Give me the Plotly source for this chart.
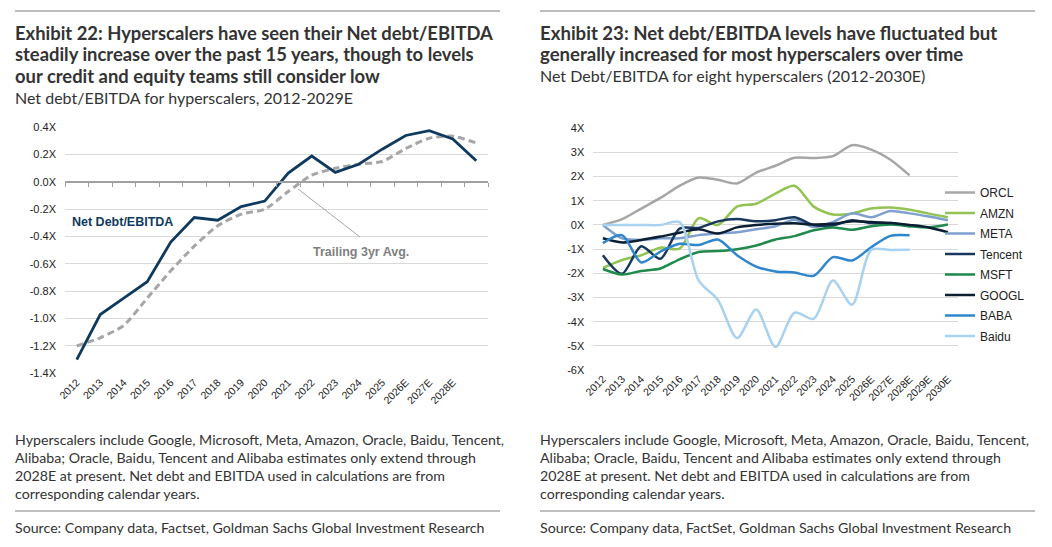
import plotly.graph_objects as go

W, H = 1052, 547

# ---------------- data: Exhibit 22 ----------------
left_categories = ["2012", "2013", "2014", "2015", "2016", "2017", "2018", "2019", "2020",
                   "2021", "2022", "2023", "2024", "2025", "2026E", "2027E", "2028E", "2029E"]
left_tick_labels = left_categories[:-1]          # last category carries no label
net_debt_ebitda = [-1.30, -0.97, -0.85, -0.73, -0.44, -0.26, -0.28, -0.18, -0.14,
                   0.065, 0.19, 0.07, 0.13, 0.24, 0.34, 0.375, 0.315, 0.155]
trailing_3yr_avg = [-1.20, -1.14, -1.05, -0.85, -0.65, -0.47, -0.32, -0.235, -0.20,
                    -0.07, 0.05, 0.10, 0.13, 0.15, 0.245, 0.32, 0.335, 0.285]
left_y_ticks = [0.4, 0.2, 0.0, -0.2, -0.4, -0.6, -0.8, -1.0, -1.2, -1.4]

# ---------------- data: Exhibit 23 ----------------
right_categories = ["2012", "2013", "2014", "2015", "2016", "2017", "2018", "2019", "2020",
                    "2021", "2022", "2023", "2024", "2025", "2026E", "2027E", "2028E",
                    "2029E", "2030E"]
orcl = [0.0, 0.24, 0.68, 1.12, 1.62, 1.96, 1.87, 1.72, 2.17, 2.45, 2.78, 2.77, 2.85, 3.30,
        3.12, 2.70, 2.05, None, None]
amzn = [-1.78, -1.45, -1.25, -0.94, -0.98, 0.28, 0.0, 0.76, 0.88, 1.30, 1.62, 0.76, 0.43,
        0.48, 0.68, 0.72, 0.63, 0.47, 0.32]
meta = [0.0, -0.55, -0.62, -0.55, -0.55, -0.42, -0.35, -0.30, -0.18, -0.05, 0.22, -0.08,
        0.12, 0.48, 0.32, 0.58, 0.48, 0.35, 0.20]
tencent = [-1.25, -2.02, -0.88, -1.40, -0.15, -0.12, 0.15, 0.25, 0.15, 0.20, 0.32, 0.0,
           -0.02, 0.20, 0.08, 0.08, -0.05, None, None]
msft = [-1.82, -2.05, -1.90, -1.80, -1.42, -1.12, -1.08, -1.00, -0.85, -0.60, -0.46, -0.22,
        -0.10, -0.20, -0.05, 0.02, -0.05, -0.10, 0.02]
googl = [-0.55, -0.72, -0.62, -0.48, -0.32, -0.18, -0.35, -0.10, 0.0, 0.05, 0.07, 0.02,
         0.05, 0.15, 0.12, 0.08, 0.0, -0.10, -0.30]
baba = [-0.75, -0.42, -1.55, -1.10, -0.78, -0.83, -0.60, -1.25, -1.72, -1.92, -1.97, -2.10,
        -1.33, -1.47, -0.92, -0.45, -0.43, None, None]
baidu = [0.0, 0.0, 0.0, 0.0, 0.12, -2.30, -3.10, -4.68, -3.50, -5.05, -3.63, -3.88, -2.30,
         -3.30, -1.03, -1.03, -1.02, None, None]
right_series_names = ["ORCL", "AMZN", "META", "Tencent", "MSFT", "GOOGL", "BABA", "Baidu"]
right_series_values = [orcl, amzn, meta, tencent, msft, googl, baba, baidu]
right_y_ticks = [4, 3, 2, 1, 0, -1, -2, -3, -4, -5, -6]

# ---------------- text ----------------
left_title = ["Exhibit 22: Hyperscalers have seen their Net debt/EBITDA",
              "steadily increase over the past 15 years, though to levels",
              "our credit and equity teams still consider low"]
left_subtitle = "Net debt/EBITDA for hyperscalers, 2012-2029E"
right_title = ["Exhibit 23: Net debt/EBITDA levels have fluctuated but",
               "generally increased for most hyperscalers over time"]
right_subtitle = "Net Debt/EBITDA for eight hyperscalers (2012-2030E)"
footnote = ["Hyperscalers include Google, Microsoft, Meta, Amazon, Oracle, Baidu, Tencent,",
            "Alibaba; Oracle, Baidu, Tencent and Alibaba estimates only extend through",
            "2028E at present. Net debt and EBITDA used in calculations are from",
            "corresponding calendar years."]
left_source = "Source: Company data, Factset, Goldman Sachs Global Investment Research"
right_source = "Source: Company data, FactSet, Goldman Sachs Global Investment Research"

# ---------------- styles ----------------
NAVY = "#0f3a5f"
GREY_DASH = "#a6a6a6"
GRID = "#d9d9d9"
TEXT = "#333333"
TICK_FONT = "Liberation Sans, Arial, sans-serif"
HEAD_FONT = "Lato, Open Sans, sans-serif"
RULE = "#a8a8a8"
right_colors = {"ORCL": "#a6a6a6", "AMZN": "#92c353", "META": "#7f9fcf", "Tencent": "#17375e",
                "MSFT": "#1f8a4c", "GOOGL": "#0c1e33", "BABA": "#2f86cc", "Baidu": "#a9d1f0"}


def px(x):
    return x / W


def py(y):
    return 1 - y / H


# plot areas (paper fractions)
L_X = [px(65), px(488)]
L_Y = [py(373.3), py(127.3)]
R_X = [px(593.3), px(957.5)]
R_Y = [py(370), py(128.3)]
L_RANGE = [min(left_y_ticks), max(left_y_ticks)]
zero_pos = L_Y[0] + (0 - L_RANGE[0]) / (L_RANGE[1] - L_RANGE[0]) * (L_Y[1] - L_Y[0])

fig = go.Figure()

# ---- left chart ----
fig.add_trace(go.Scatter(x=left_categories, y=trailing_3yr_avg, mode="lines",
                         line=dict(color=GREY_DASH, width=3, dash="7px,4px", shape="spline",
                                   smoothing=0.6),
                         xaxis="x", yaxis="y", showlegend=False, hoverinfo="skip"))
fig.add_trace(go.Scatter(x=left_categories, y=net_debt_ebitda, mode="lines",
                         line=dict(color=NAVY, width=2.8),
                         xaxis="x", yaxis="y", showlegend=False, hoverinfo="skip"))
# helper (invisible) trace that carries the categories of the zero-line axis
fig.add_trace(go.Scatter(x=left_categories, y=net_debt_ebitda, mode="lines", opacity=0,
                         xaxis="x3", yaxis="y", showlegend=False, hoverinfo="skip"))

# ---- right chart ----
for name, vals in zip(right_series_names, right_series_values):
    fig.add_trace(go.Scatter(x=right_categories, y=vals, mode="lines", name=name,
                             line=dict(color=right_colors[name], width=2.5, shape="spline",
                                       smoothing=0.8),
                             xaxis="x2", yaxis="y2", legendgroup=name, hoverinfo="skip"))

tick_font = dict(family=TICK_FONT, size=11, color="#222222")
xtick_font = dict(family=TICK_FONT, size=10.5, color="#222222")

fig.update_layout(
    width=W, height=H, margin=dict(l=0, r=0, t=0, b=0, autoexpand=False), autosize=False,
    paper_bgcolor="white", plot_bgcolor="white",
    xaxis=dict(domain=L_X, anchor="y", type="category", categoryorder="array",
               categoryarray=left_categories, range=[-0.5, len(left_categories) - 0.5],
               tickmode="array", tickvals=left_tick_labels, ticktext=left_tick_labels,
               tickangle=-45, tickfont=xtick_font, showgrid=False, showline=False,
               ticks="", zeroline=False),
    xaxis3=dict(overlaying="x", anchor="free", position=zero_pos, type="category",
                categoryorder="array", categoryarray=left_categories,
                range=[-0.5, len(left_categories) - 0.5], showticklabels=False,
                showline=True, linecolor="#a0a0a0", linewidth=1.5, ticks="outside",
                tickson="boundaries", ticklen=4, tickcolor="#a0a0a0", tickwidth=1,
                showgrid=False, zeroline=False),
    yaxis=dict(domain=L_Y, anchor="x", range=L_RANGE, tickmode="array",
               tickvals=left_y_ticks, ticktext=[f"{v:.1f}X" for v in left_y_ticks],
               tickfont=tick_font, showgrid=True, gridcolor=GRID, gridwidth=1,
               zeroline=False, showline=False, ticks="", ticklabelstandoff=8),
    xaxis2=dict(domain=R_X, anchor="y2", type="category", categoryorder="array",
                categoryarray=right_categories, range=[-0.5, len(right_categories) - 0.5],
                tickangle=-45, tickfont=xtick_font, showgrid=False, showline=False,
                ticks="", zeroline=False),
    yaxis2=dict(domain=R_Y, anchor="x2", range=[min(right_y_ticks), max(right_y_ticks)],
                tickmode="array", tickvals=right_y_ticks,
                ticktext=[f"{v:d}X" for v in right_y_ticks], tickfont=tick_font,
                showgrid=True, gridcolor=GRID, gridwidth=1, zeroline=False,
                showline=False, ticks="", ticklabelstandoff=8),
    legend=dict(x=px(940), y=py(178), xanchor="left", yanchor="top",
                font=dict(family=TICK_FONT, size=12, color="#222222"),
                bgcolor="rgba(0,0,0,0)", tracegroupgap=1.5, itemwidth=30),
    showlegend=True,
)

annotations = []
shapes = []


def text_line(x, y, s, size, bold=False, color=TEXT, family=HEAD_FONT):
    annotations.append(dict(xref="paper", yref="paper", x=px(x), y=py(y), xanchor="left",
                            yanchor="middle", showarrow=False, borderpad=0,
                            text=f"<b>{s}</b>" if bold else s,
                            font=dict(family=family, size=size, color=color)))


for i, s in enumerate(left_title):
    text_line(14, 33 + i * 21.5, s, 18.4, bold=True)
text_line(14, 97, left_subtitle, 16)
for i, s in enumerate(right_title):
    text_line(539, 33 + i * 21.5, s, 18.6, bold=True)
text_line(539, 76, right_subtitle, 16)

for i, s in enumerate(footnote):
    text_line(14, 439 + i * 18.2, s, 14.2)
    text_line(539, 439 + i * 18.2, s, 14.2)
text_line(14, 527, left_source, 14.2)
text_line(539, 527, right_source, 14.2)

# series labels in the left chart
text_line(71, 222, "Net Debt/EBITDA", 12.5, bold=True, color=NAVY, family=TICK_FONT)
text_line(312, 252, "Trailing 3yr Avg.", 12.5, bold=True, color="#7f7f7f", family=TICK_FONT)

# connector for the trailing label
shapes.append(dict(type="line", xref="paper", yref="paper", x0=px(298), y0=py(189),
                   x1=px(360), y1=py(237), line=dict(color="#a6a6a6", width=1)))
# horizontal rules (top and above the source line)
for x0, x1 in [(15, 500), (540, 1035)]:
    shapes.append(dict(type="line", xref="paper", yref="paper", x0=px(x0), x1=px(x1),
                       y0=py(11), y1=py(11), line=dict(color=RULE, width=1.5)))
    shapes.append(dict(type="line", xref="paper", yref="paper", x0=px(x0), x1=px(x1),
                       y0=py(511), y1=py(511), line=dict(color=RULE, width=1.5)))

fig.update_layout(annotations=annotations, shapes=shapes)
fig.write_html("out.html", config={"displayModeBar": False},
               post_script="document.body.style.margin='0';"
                           "document.body.style.overflow='hidden';")
